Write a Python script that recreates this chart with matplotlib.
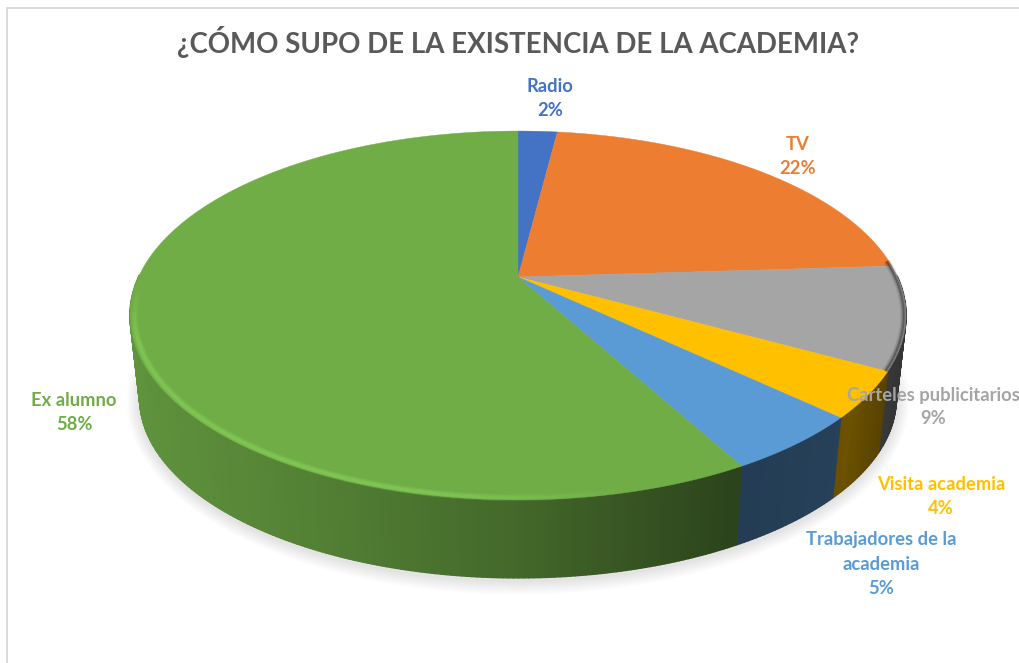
import numpy as np
import matplotlib

matplotlib.use("Agg")
import matplotlib.pyplot as plt
from matplotlib.collections import LineCollection, PolyCollection
from matplotlib.patches import Polygon

TITLE = "¿CÓMO SUPO DE LA EXISTENCIA DE LA ACADEMIA?"
categories = ["Radio", "TV", "Carteles publicitarios", "Visita academia", "Trabajadores de la\nacademia", "Ex alumno"]
shares = [2, 22, 9, 4, 5, 58]
colors = ["#4472C4", "#ED7D31", "#A5A5A5", "#FFC000", "#5B9BD5", "#70AD47"]
label_pos = [(550, 99), (798, 157), (933, 407), (941, 497), (881, 564), (74, 412)]

# pie geometry in image pixels, with the perspective of the tilted disc
CX, CY = 518, 277
RX, RY = 379.5, 176.4
PERSP = 0.2085
BOTTOM_SCALE = 0.975
BOTTOM_DROP = 83.6


def top_point(theta):
    w = 1 + PERSP * np.cos(theta)
    return CX + RX * np.sin(theta) / w, CY - RY * np.cos(theta) / w


def bottom_point(theta):
    x, y = top_point(theta)
    return CX + BOTTOM_SCALE * (x - CX), CY + BOTTOM_SCALE * (y - CY) + BOTTOM_DROP


def inset(x, y, amount):
    # pull a rim point towards the middle of the ellipse
    return CX + (x - CX) * (1 - amount), 315 + (y - 315) * (1 - amount)


def mix(color, other, t):
    c = np.array(matplotlib.colors.to_rgb(color))
    o = np.array(matplotlib.colors.to_rgb(other))
    return tuple(c + (o - c) * t)


fig = plt.figure(figsize=(10.2, 6.63), dpi=100, facecolor="white")
ax = fig.add_axes([0, 0, 1, 1])
ax.set_xlim(0, 1020)
ax.set_ylim(663, 0)
ax.axis("off")

# chart frame, only the left and top edges are in the crop
ax.plot([7, 7, 1020], [663, 8, 8], color="#d9d9d9", lw=1.4, zorder=1)

edges = 2 * np.pi * np.cumsum([0] + shares) / sum(shares)

# soft shadow under the disc
full = np.linspace(0, 2 * np.pi, 361)
bx, by = bottom_point(full)
mid_y = (by.min() + by.max()) / 2
for i in range(14):
    sx = CX + (bx - CX) * (1 + (14 - i) * 0.0025)
    sy = mid_y + (by - mid_y) * (1 + (14 - i) * 0.0055) + 3
    ax.add_patch(Polygon(np.c_[sx, sy], closed=True, fc="black", ec="none", alpha=0.009, zorder=2))

# side wall, strip by strip so the shading can follow the x position
for start, end, color in zip(edges[:-1], edges[1:], colors):
    n = max(int((end - start) * 90), 2)
    th = np.linspace(start, end, n + 1)
    tx, ty = top_point(th)
    bx, by = bottom_point(th)
    polys = []
    fills = []
    for i in range(n):
        # the back half is hidden by the top face
        if np.cos(th[i]) > 0 and np.cos(th[i + 1]) > 0:
            continue
        polys.append([(tx[i], ty[i]), (tx[i + 1], ty[i + 1]), (bx[i + 1], by[i + 1]), (bx[i], by[i])])
        shade = np.interp((tx[i] + tx[i + 1]) / 2, [130, 300, 518, 735, 850, 900], [0.85, 0.75, 0.6, 0.39, 0.42, 0.32])
        fills.append(mix(color, "black", 1 - shade))
    ax.add_collection(PolyCollection(polys, facecolors=fills, edgecolors=fills, linewidths=1.0, zorder=3))

# top face
for start, end, color in zip(edges[:-1], edges[1:], colors):
    th = np.linspace(start, end, 200)
    x, y = top_point(th)
    pts = np.vstack([[CX, CY], np.c_[x, y]])
    ax.add_patch(Polygon(pts, closed=True, fc=color, ec=color, lw=0.3, zorder=4))

# bevel along the rim: light on the left of the green slice, dark at the right
th = np.linspace(edges[5], 2 * np.pi * 0.78, 300)
x, y = inset(*top_point(th), 0.012)
segs = np.stack([np.c_[x[:-1], y[:-1]], np.c_[x[1:], y[1:]]], axis=1)
fade = np.interp(x[:-1], [130, 420, 640], [1.0, 1.0, 0.0]) * np.clip((y[:-1] - 285) / 60, 0, 1)
for lw, a in [(5, 0.3), (3.4, 0.4), (1.8, 0.5)]:
    line_colors = [(0.52, 0.80, 0.34, a * f) for f in fade]
    ax.add_collection(LineCollection(segs, colors=line_colors, linewidths=lw, zorder=5, capstyle="butt"))

th = np.linspace(edges[2] - 0.03, edges[3], 120)
x, y = inset(*top_point(th), 0.006)
for lw, a in [(5, 0.12), (3, 0.22), (1.4, 0.4)]:
    ax.plot(x, y, color="#2b2b2b", lw=lw, alpha=a, zorder=5, solid_capstyle="butt")

ax.text(518, 42, TITLE, ha="center", va="center", fontsize=19.9, fontweight="bold", family="Lato", color="#595959", zorder=7)

for name, share, color, (lx, ly) in zip(categories, shares, colors, label_pos):
    ax.text(lx, ly, f"{name}\n{share}%", ha="center", va="center", fontsize=13.2, fontweight="bold",
            family="Lato", color=color, linespacing=1.5, zorder=7)

fig.savefig("out.png", dpi=100)
